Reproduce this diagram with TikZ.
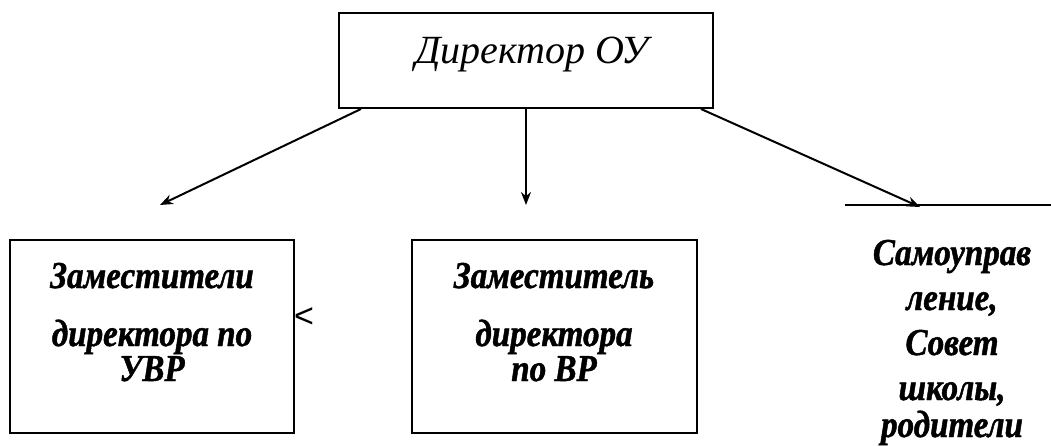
\documentclass[tikz,border=0pt]{standalone}
\usepackage{fontspec}
\setmainfont{Liberation Serif}
\setsansfont{Liberation Sans}
\newfontfamily\unitfont[FakeStretch=0.87,FakeBold=1.2]{Liberation Serif}
\usepackage{tikz}
\usetikzlibrary{arrows,arrows.meta}
\usetikzlibrary{shapes,positioning}
\tikzset{>={Stealth[length=13pt,width=10pt]}}
\colorlet{penColor}{black}
\colorlet{background}{white}
\tikzset{
  unitbox/.style={draw=penColor,line width=2pt,inner sep=0pt},
  unittext/.style={font=\unitfont\bfseries\itshape\fontsize{38}{43}\selectfont,align=center,inner sep=0pt},
  link/.style={->,penColor,line width=2pt}
}
\begin{document}
\begin{tikzpicture}[x=1pt,y=-1pt]
    \useasboundingbox[fill=background] (0,0) rectangle (1051,446);

    \node[unitbox,minimum width=374pt,minimum height=95pt] (dir) at (526,60.5) {};
    \node[font=\itshape\fontsize{40}{48}\selectfont,anchor=base] (dirtext) at (532,64) {Директор ОУ};

    \node[unitbox,minimum width=284pt,minimum height=193pt] (uvr) at (152,336.5) {};
    \node[unittext,anchor=base] (uvrtext) at (152,381) {Заместители\\[15pt]директора по\\[-8pt]УВР};
    \node[font=\sffamily\fontsize{34}{40}\selectfont,inner sep=0pt] (lt) at (304,318) {<};

    \node[unitbox,minimum width=285pt,minimum height=193pt] (vr) at (554.5,336.5) {};
    \node[unittext,anchor=base] (vrtext) at (554,381) {Заместитель\\[15pt]директора\\[-8pt]по ВР};

    \coordinate (selfL) at (845,205);
    \coordinate (selfR) at (1051,205);
    \draw[penColor,line width=2pt] (selfL) -- (selfR);
    \node[unittext,font=\unitfont\bfseries\itshape\fontsize{38}{45}\selectfont,anchor=base] (selftext) at (952,437)
      {Самоуправ\\ление,\\Совет\\школы,\\[-8pt]родители};

    \coordinate (uvrTip) at (160,205);
    \coordinate (vrTip) at (526,205);
    \coordinate (selfTip) at (920,207);
    \draw[link] ([xshift=23pt]dir.south west) -- (uvrTip);
    \draw[link] (dir.south) -- (vrTip);
    \draw[link] ([xshift=-13pt]dir.south east) -- (selfTip);
  \end{tikzpicture}
\end{document}
